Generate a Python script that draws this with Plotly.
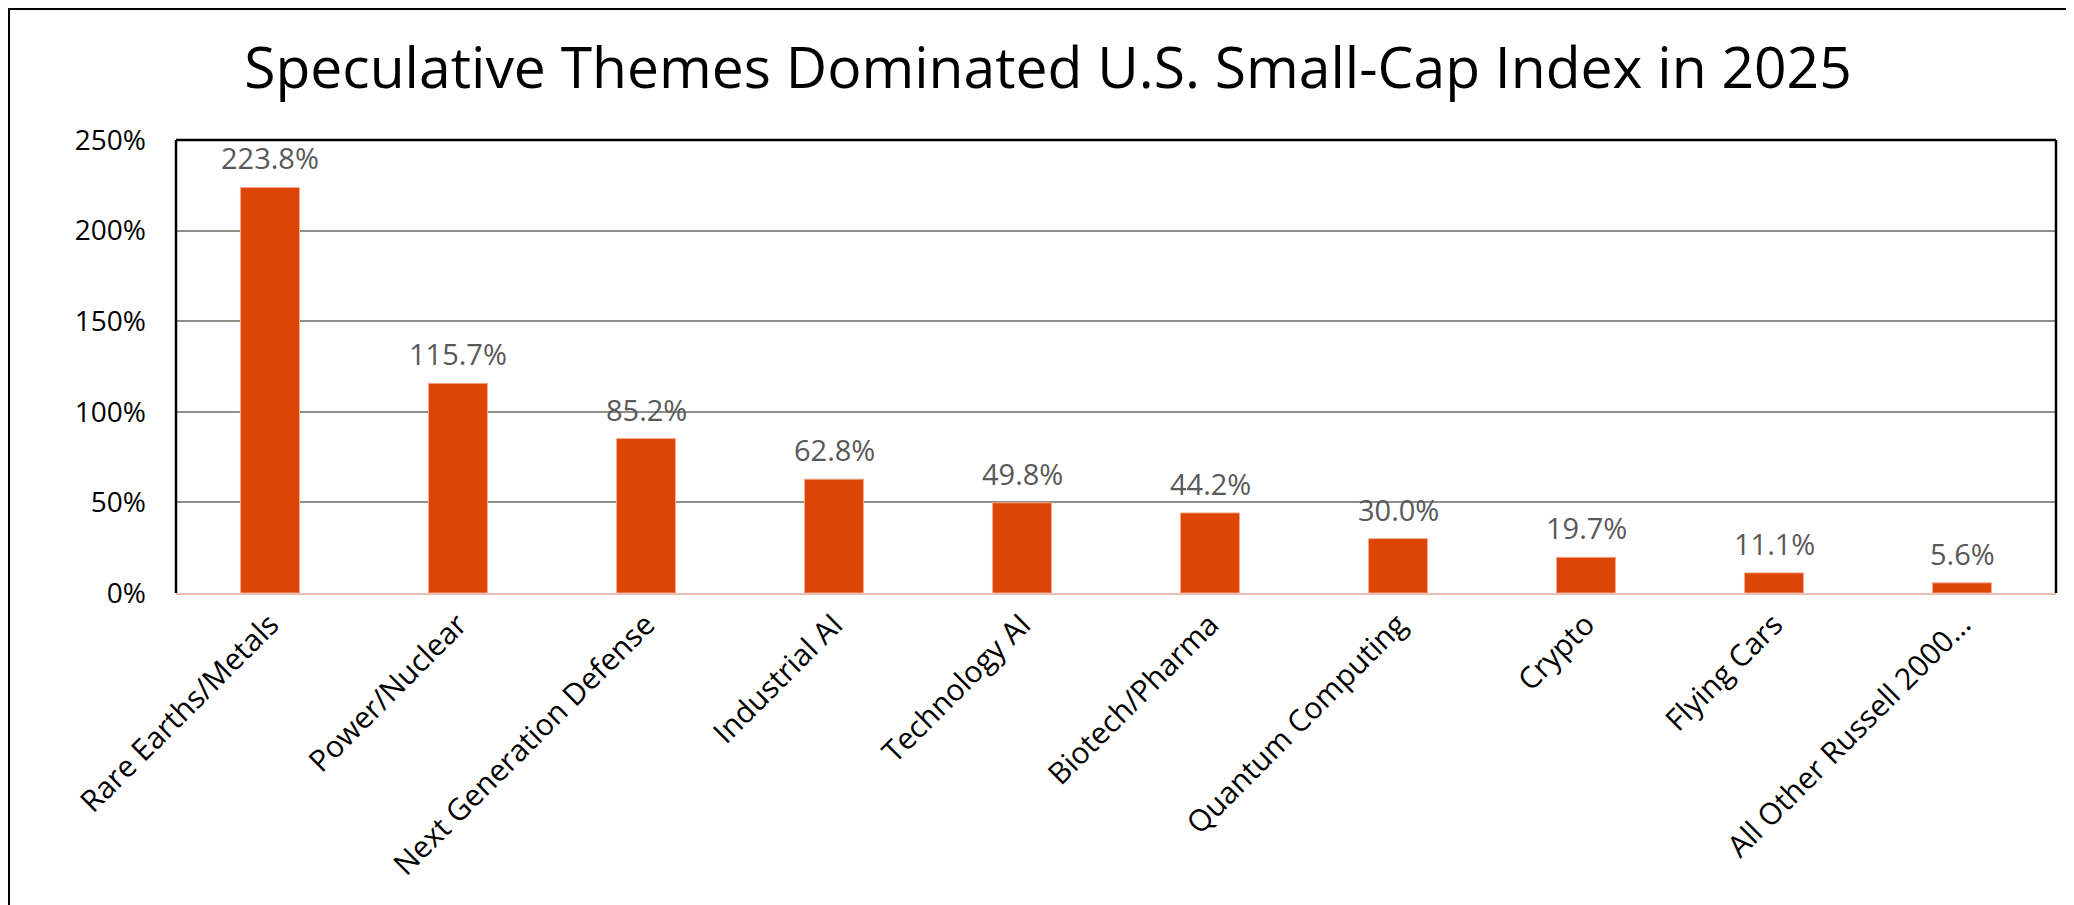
import plotly.graph_objects as go

categories = ["Rare Earths/Metals", "Power/Nuclear", "Next Generation Defense", "Industrial AI",
              "Technology AI", "Biotech/Pharma", "Quantum Computing", "Crypto", "Flying Cars",
              "All Other Russell 2000…"]
returns_pct = [223.8, 115.7, 85.2, 62.8, 49.8, 44.2, 30.0, 19.7, 11.1, 5.6]
y_ticks = [0, 50, 100, 150, 200, 250]
y_tick_labels = ["0%", "50%", "100%", "150%", "200%", "250%"]
title_text = "Speculative Themes Dominated U.S. Small-Cap Index in 2025"

W, H = 2074, 905
OFF = 8  # page body margin offset
ML, MR, MT, MB = 176 - OFF, 18 + OFF, 140 - OFF, 312 + OFF
PW = W - ML - MR
PH = H - MT - MB

def px_x(p):
    return (p - OFF - ML) / PW

def px_y(p):
    return (H - MB - (p - OFF)) / PH

FONT = "Open Sans"
BAR = "#DD4405"

fig = go.Figure()
fig.add_trace(go.Bar(
    x=categories, y=returns_pct,
    marker=dict(color=BAR, line=dict(color="#F3A98A", width=1)),
    hoverinfo="x+y",
))

annotations = []
for c, v in zip(categories, returns_pct):
    annotations.append(dict(
        x=c, y=v, xref="x", yref="y", text=f"{v:.1f}%", showarrow=False,
        yanchor="bottom", yshift=8,
        font=dict(family=FONT, size=29, color="#595959"),
    ))

shapes = [
    # outer frame (top and left)
    dict(type="line", xref="paper", yref="paper", x0=px_x(8), x1=px_x(W + 20), y0=px_y(9), y1=px_y(9),
         line=dict(color="black", width=2)),
    dict(type="line", xref="paper", yref="paper", x0=px_x(9), x1=px_x(9), y0=px_y(8), y1=px_y(H + 20),
         line=dict(color="black", width=2)),
    # plot area border left/top/right
    dict(type="line", xref="paper", yref="paper", x0=0, x1=0, y0=0, y1=1, line=dict(color="black", width=2.5)),
    dict(type="line", xref="paper", yref="paper", x0=0, x1=1, y0=1, y1=1, line=dict(color="black", width=2.5)),
    dict(type="line", xref="paper", yref="paper", x0=1, x1=1, y0=0, y1=1, line=dict(color="black", width=2.5)),
]

fig.update_layout(
    width=W, height=H,
    margin=dict(l=ML, r=MR, t=MT, b=MB, autoexpand=False),
    paper_bgcolor="white", plot_bgcolor="white",
    showlegend=False,
    bargap=0.686,
    title=dict(text=title_text, x=(1048 - OFF) / W, xref="container", xanchor="center",
               y=1 - (68 - OFF) / H, yref="container", yanchor="middle",
               font=dict(family=FONT, size=57, color="black")),
    font=dict(family=FONT, color="black"),
    annotations=annotations,
    shapes=shapes,
    xaxis=dict(
        tickangle=-45, tickfont=dict(family=FONT, size=30, color="black"),
        showline=True, linecolor="#E8BFB2", linewidth=2, ticks="",
        showgrid=False, range=[-0.5, len(categories) - 0.5],
    ),
    yaxis=dict(
        range=[0, 250], tickvals=y_ticks, ticktext=y_tick_labels,
        tickfont=dict(family=FONT, size=28, color="black"),
        showgrid=True, gridcolor="#8E8F88", gridwidth=2,
        zeroline=False, showline=False, ticks="", ticklabelstandoff=29,
    ),
)

fig.write_html("out.html")
